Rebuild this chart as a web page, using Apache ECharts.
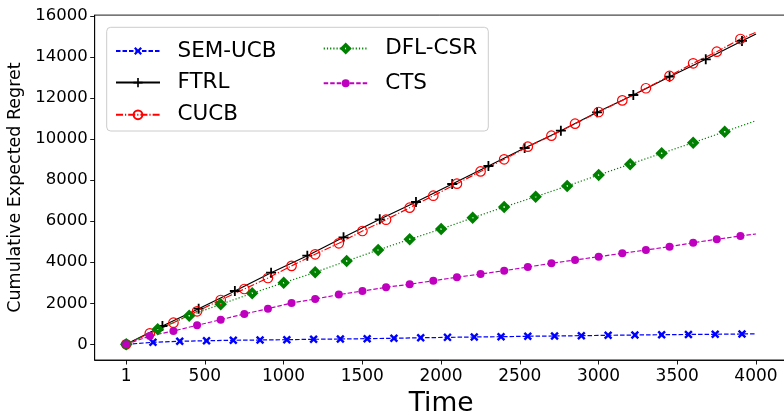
<!DOCTYPE html>
<html>
<head>
<meta charset="utf-8">
<script src="https://cdn.jsdelivr.net/npm/echarts@6/dist/echarts.min.js"></script>
<style>
  html, body { margin: 0; padding: 0; background: #fff; }
  #chart { width: 784px; height: 417px; }
</style>
</head>
<body>
<div id="chart"></div>
<script>
// Sample times (with markers) and cumulative regret for each algorithm
const semTimes = [1, 171, 341, 511, 681, 851, 1021, 1191, 1361, 1531, 1701, 1871, 2041, 2211, 2381, 2551, 2721, 2891, 3061, 3231, 3401, 3571, 3741, 3911, 4000];
const semVals  = [0, 97, 146, 175, 195, 209, 224, 244, 258, 273, 295, 318, 338, 356, 370, 390, 404, 419, 438, 453, 468, 478, 487, 502, 510];

const ftrlTimes = [1, 231, 461, 691, 921, 1151, 1381, 1611, 1841, 2071, 2301, 2531, 2761, 2991, 3221, 3451, 3681, 3911, 4000];
const ftrlVals  = [0, 891, 1734, 2596, 3488, 4316, 5212, 6089, 6931, 7808, 8685, 9562, 10404, 11300, 12143, 13034, 13882, 14774, 15114];

const cucbTimes = [1, 151, 301, 451, 601, 751, 901, 1051, 1201, 1351, 1501, 1651, 1801, 1951, 2101, 2251, 2401, 2551, 2701, 2851, 3001, 3151, 3301, 3451, 3601, 3751, 3901, 4000];
const cucbVals  = [0, 536, 1052, 1607, 2158, 2694, 3230, 3820, 4384, 4920, 5519, 6069, 6654, 7238, 7823, 8420, 9011, 9625, 10161, 10745, 11315, 11880, 12470, 13069, 13687, 14252, 14871, 15200];

const dflTimes = [1, 201, 401, 601, 801, 1001, 1201, 1401, 1601, 1801, 2001, 2201, 2401, 2601, 2801, 3001, 3201, 3401, 3601, 3801, 4000];
const dflVals  = [0, 731, 1393, 1948, 2484, 3000, 3507, 4057, 4593, 5114, 5616, 6160, 6688, 7190, 7711, 8246, 8775, 9303, 9820, 10356, 10891];

const ctsTimes = [1, 151, 301, 451, 601, 751, 901, 1051, 1201, 1351, 1501, 1651, 1801, 1951, 2101, 2251, 2401, 2551, 2701, 2851, 3001, 3151, 3301, 3451, 3601, 3751, 3901, 4000];
const ctsVals  = [0, 404, 648, 925, 1198, 1476, 1734, 2010, 2206, 2420, 2596, 2776, 2923, 3098, 3264, 3424, 3585, 3765, 3945, 4106, 4267, 4432, 4593, 4754, 4949, 5114, 5275, 5373];

// Tick positions
const xTicks = [1, 500, 1000, 1500, 2000, 2500, 3000, 3500, 4000];
const yTicks = [0, 2000, 4000, 6000, 8000, 10000, 12000, 14000, 16000];

const FONT = 'DejaVu Sans';

// Marker shapes
const X_MARK = 'path://M2,0 L5,3 L8,0 L10,2 L7,5 L10,8 L8,10 L5,7 L2,10 L0,8 L3,5 L0,2 Z';
const PLUS_MARK = 'path://M4.1,0 L5.9,0 L5.9,4.1 L10,4.1 L10,5.9 L5.9,5.9 L5.9,10 L4.1,10 L4.1,5.9 L0,5.9 L0,4.1 L4.1,4.1 Z';
const DIAMOND_MARK = 'path://M5,0 L10,5 L5,10 L0,5 Z M4.4,4.4 L4.4,5.6 L5.6,5.6 L5.6,4.4 Z';

// Pair times with values; the final point (t = 4000) carries no marker
function toData(times, vals) {
  return times.map((t, i) => i === times.length - 1
    ? { value: [t, vals[i]], symbol: 'none' }
    : [t, vals[i]]);
}

function lineSeries(name, times, vals, color, dash, symbol, size, itemStyle) {
  return {
    name: name,
    type: 'line',
    data: toData(times, vals),
    symbol: symbol,
    symbolSize: size,
    showAllSymbol: true,
    lineStyle: { color: color, width: 1.2, type: dash },
    itemStyle: itemStyle || { color: color },
    emphasis: { disabled: true },
    animation: false
  };
}

const series = [
  lineSeries('SEM-UCB', semTimes, semVals, '#0000ff', [4.5, 2], X_MARK, 8.5),
  lineSeries('FTRL', ftrlTimes, ftrlVals, '#000000', 'solid', PLUS_MARK, 10),
  lineSeries('CUCB', cucbTimes, cucbVals, '#ff0000', [7, 2, 1.2, 2], 'circle', 9.5,
    { color: 'rgba(255,255,255,0)', borderColor: '#ff0000', borderWidth: 1.2 }),
  lineSeries('DFL-CSR', dflTimes, dflVals, '#008000', [1.2, 2], DIAMOND_MARK, 12.5),
  lineSeries('CTS', ctsTimes, ctsVals, '#bf00bf', [4.5, 2], 'circle', 8)
];

// One legend entry per component so each row can be placed and sized on its own
function legendEntry(name, left, centerY, iconH) {
  return {
    data: [name],
    left: left,
    top: centerY - iconH / 2,
    orient: 'vertical',
    padding: 0,
    itemWidth: 44,
    itemHeight: iconH,
    selectedMode: false,
    textStyle: { fontFamily: FONT, fontSize: 21.5, color: '#000', padding: [0, 0, 0, 12.5] },
    z: 5
  };
}

const chart = echarts.init(document.getElementById('chart'), null, { renderer: 'canvas' });

chart.setOption({
  animation: false,
  backgroundColor: '#ffffff',
  grid: {
    left: 94.7, top: 15.1, width: 692.8, height: 344.9,
    outerBoundsMode: 'none',
    containLabel: false,
    show: true, borderColor: '#000', borderWidth: 0.9, backgroundColor: 'transparent'
  },
  xAxis: {
    type: 'value',
    min: -199, max: 4200,
    name: 'Time',
    nameLocation: 'middle',
    nameGap: 31,
    nameTextStyle: { fontFamily: FONT, fontSize: 26.5, color: '#000' },
    axisLine: { show: true, onZero: false, lineStyle: { color: '#000', width: 0.9 } },
    axisTick: { show: true, length: 4.5, lineStyle: { color: '#000', width: 0.9 }, customValues: xTicks },
    axisLabel: {
      fontFamily: FONT, fontSize: 17, color: '#000', margin: 8,
      customValues: xTicks, formatter: v => String(v)
    },
    splitLine: { show: false }
  },
  yAxis: {
    type: 'value',
    min: -765, max: 16034,
    name: 'Cumulative Expected Regret',
    nameLocation: 'middle',
    nameRotate: 90,
    nameGap: 58,
    nameTextStyle: { fontFamily: FONT, fontSize: 17.5, color: '#000' },
    axisLine: { show: true, onZero: false, lineStyle: { color: '#000', width: 0.9 } },
    axisTick: { show: true, length: 4.5, lineStyle: { color: '#000', width: 0.9 }, customValues: yTicks },
    axisLabel: {
      fontFamily: FONT, fontSize: 16.5, color: '#000', margin: 7,
      customValues: yTicks, formatter: v => String(v)
    },
    splitLine: { show: false }
  },
  legend: [
    legendEntry('SEM-UCB', 115, 45, 10),
    legendEntry('FTRL', 115, 77.3, 11.5),
    legendEntry('CUCB', 115, 109.3, 11),
    legendEntry('DFL-CSR', 322.7, 45, 15),
    legendEntry('CTS', 322.7, 77.3, 10)
  ],
  graphic: [{
    type: 'rect',
    z: 3,
    shape: { x: 106.7, y: 27.3, width: 381.6, height: 103.7, r: 4 },
    style: { fill: 'rgba(255,255,255,0.8)', stroke: '#cccccc', lineWidth: 1 }
  }],
  series: series
});
</script>
</body>
</html>
